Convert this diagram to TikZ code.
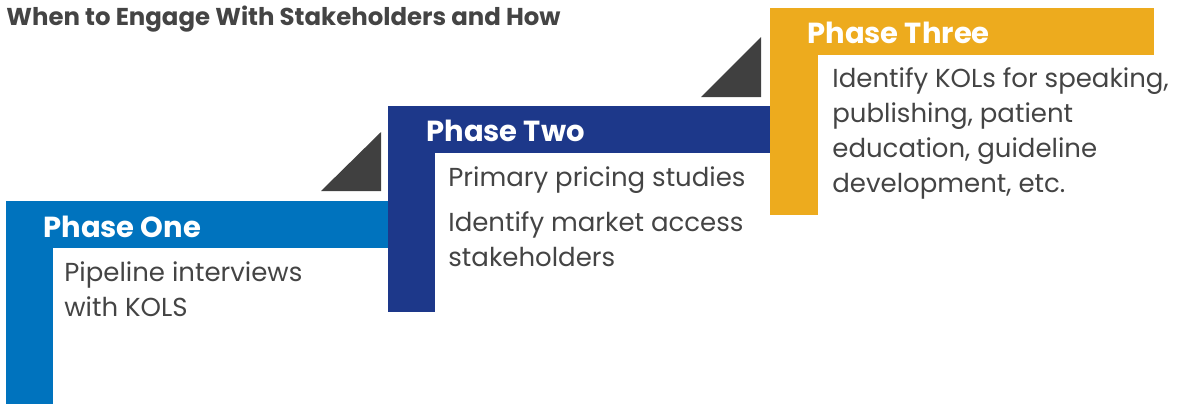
\documentclass[tikz,border=0pt]{standalone}
\usepackage{fontspec}
\setmainfont{Poppins}
\usepackage{tikz}
\usetikzlibrary{positioning}
\definecolor{phaseone}{RGB}{0,115,190}
\definecolor{phasetwo}{RGB}{29,56,138}
\definecolor{phasethree}{RGB}{237,171,30}
\definecolor{stepgray}{RGB}{64,64,64}
\definecolor{textgray}{RGB}{68,68,68}

\begin{document}
\begin{tikzpicture}[x=0.5pt, y=-0.5pt,
    phasehead/.style={anchor=base west, inner sep=0pt, text=white, font=\fontsize{14.5}{17}\selectfont\bfseries},
    phasebody/.style={anchor=base west, inner sep=0pt, text=textgray, align=left, font=\fontsize{13}{17.4}\selectfont}]

\useasboundingbox (0,0) rectangle (1183,404);

% Title
\node[anchor=base west, inner sep=0pt, text=textgray, font=\fontsize{12.2}{14}\selectfont\bfseries] (title) at (6,25) {When to Engage With Stakeholders and How};

% Step triangles
\fill[stepgray] (321,191) -- (381,132) -- (381,191) -- cycle;
\fill[stepgray] (701,97) -- (761,37) -- (761,97) -- cycle;

% (1) Phase One
\fill[phaseone] (6,201) rectangle (388,248);
\fill[phaseone] (6,248) rectangle (53,404);
\node[phasehead] (head1) at (43,237) {Phase One};
% multi-line nodes sit on their last baseline
\node[phasebody] (body1) at (64,316) {Pipeline interviews\\with KOLS};

% (2) Phase Two
\fill[phasetwo] (388,106) rectangle (770,153);
\fill[phasetwo] (388,153) rectangle (435,312);
\node[phasehead] (head2) at (426,141) {Phase Two};
\node[phasebody] (body2a) at (448,186) {Primary pricing studies};
\node[phasebody] (body2b) at (448,266) {Identify market access\\stakeholders};

% (3) Phase Three
\fill[phasethree] (770,8) rectangle (1154,55);
\fill[phasethree] (770,55) rectangle (818,215);
\node[phasehead] (head3) at (807,43) {Phase Three};
\node[phasebody] (body3) at (832,192) {Identify KOLs for speaking,\\publishing, patient\\education, guideline\\development, etc.};

\end{tikzpicture}
\end{document}
